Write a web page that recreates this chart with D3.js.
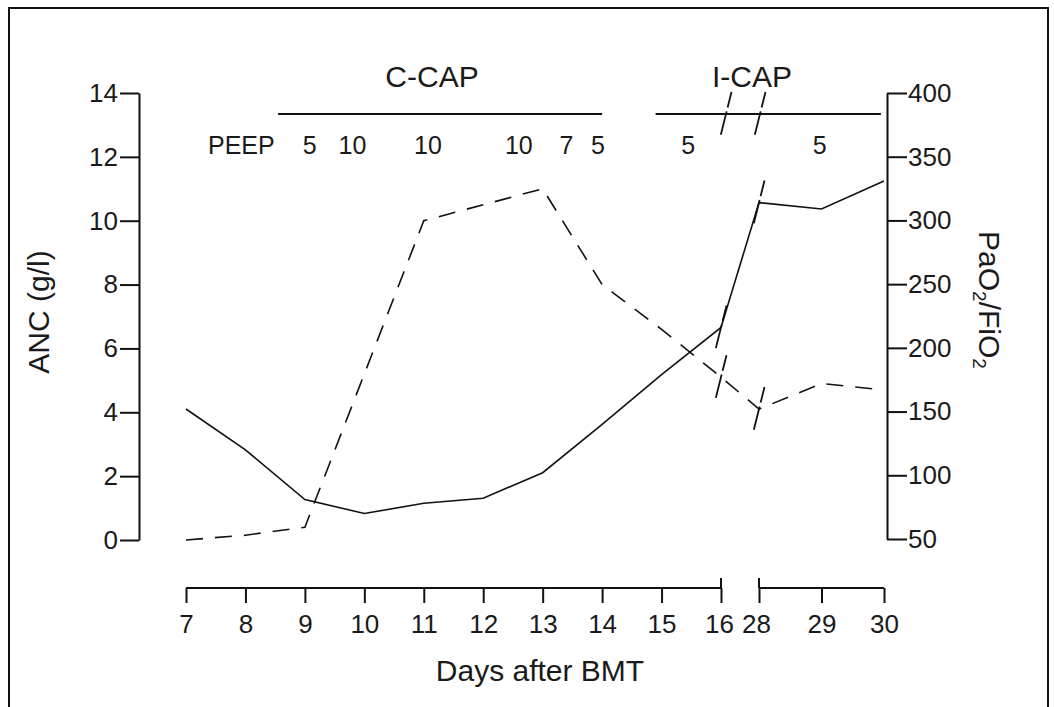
<!DOCTYPE html>
<html>
<head>
<meta charset="utf-8">
<script src="https://cdn.jsdelivr.net/npm/d3@7"></script>
<style>
  html, body { margin: 0; padding: 0; background: #fff; }
  svg { display: block; }
  text { font-family: "Liberation Sans", Arial, Helvetica, sans-serif; fill: #1a1a1a; }
</style>
</head>
<body>
<svg id="chart" width="1054" height="707"></svg>
<script>
// ---- data ----
const days = [7, 8, 9, 10, 11, 12, 13, 14, 15, 16, 28, 29, 30];
const ancValues = [0.0, 0.15, 0.4, 5.2, 10.0, 10.5, 11.0, 8.0, 6.6, 5.1, 4.1, 4.9, 4.7];   // dashed, left axis
const pfValues  = [152, 120, 81, 70, 78, 82, 102, 140, 179, 216, 314, 309, 331];          // solid, right axis
const leftTicks = [0, 2, 4, 6, 8, 10, 12, 14];
const rightTicks = [50, 100, 150, 200, 250, 300, 350, 400];
const breakDays = [16, 28];
const modeNames = ["C-CAP", "I-CAP"];
const modeRanges = [[8.55, 14.0], [14.9, 29.95]];
const peepValues = ["5", "10", "10", "10", "7", "5", "5", "5"];
const peepDays = [9.08, 9.8, 11.07, 12.6, 13.4, 13.93, 15.45, 28.97];

// ---- layout ----
const svg = d3.select("#chart");
const x = d3.scaleLinear().domain([7, 16, 28, 30]).range([186, 721, 759, 884]);
const yL = d3.scaleLinear().domain([0, 14]).range([540, 93]);
const yR = d3.scaleLinear().domain([50, 400]).range([539, 93]);
const axisY = 588;

// frame
svg.append("path")
  .attr("d", "M9,710 L9,8 L1048,8 L1048,710")
  .attr("fill", "none").attr("stroke", "#111").attr("stroke-width", 2);

// left axis
const gL = svg.append("g").attr("transform", "translate(139,0)")
  .call(d3.axisLeft(yL).tickValues(leftTicks).tickSize(19).tickSizeOuter(0).tickPadding(2));
// right axis
const gR = svg.append("g").attr("transform", "translate(887,0)")
  .call(d3.axisRight(yR).tickValues(rightTicks).tickSize(20).tickSizeOuter(0).tickPadding(1));
// bottom axis
const gB = svg.append("g").attr("transform", `translate(0,${axisY})`)
  .call(d3.axisBottom(x).tickValues(days).tickSize(15).tickPadding(12));
gB.select(".domain").remove();
[[7, 16], [28, 30]].forEach(seg => {
  gB.append("line").attr("x1", x(seg[0])).attr("x2", x(seg[1]))
    .attr("y1", 0).attr("y2", 0).attr("stroke", "#111").attr("stroke-width", 2);
});
breakDays.forEach(d => {
  gB.append("line").attr("x1", x(d)).attr("x2", x(d)).attr("y1", -10).attr("y2", 0)
    .attr("stroke", "#111").attr("stroke-width", 2);
});
gB.selectAll(".tick text").attr("dx", d => d === 28 ? -3 : (d === 16 ? -2 : 0));

[gL, gR, gB].forEach(g => {
  g.selectAll(".domain").attr("stroke", "#111").attr("stroke-width", 2);
  g.selectAll(".tick line").attr("stroke", "#111").attr("stroke-width", 2);
  g.selectAll(".tick text").attr("font-size", 26).attr("fill", "#1a1a1a")
    .style("font-family", "'Liberation Sans', Arial, sans-serif");
});

// axis titles
svg.append("text").attr("x", 540).attr("y", 681).attr("text-anchor", "middle")
  .attr("font-size", 30).text("Days after BMT");
svg.append("text").attr("transform", "translate(49,312) rotate(-90)")
  .attr("text-anchor", "middle").attr("font-size", 30).text("ANC (g/l)");
const rt = svg.append("text").attr("transform", "translate(979,300) rotate(90)")
  .attr("text-anchor", "middle").attr("font-size", 30);
rt.append("tspan").text("PaO");
rt.append("tspan").attr("font-size", 19).attr("dy", 6).text("2");
rt.append("tspan").attr("dy", -6).text("/FiO");
rt.append("tspan").attr("font-size", 19).attr("dy", 6).text("2");

// ventilation mode bars
const barY = 114;
modeRanges.forEach((r, i) => {
  svg.append("line").attr("x1", x(r[0])).attr("x2", x(r[1])).attr("y1", barY).attr("y2", barY)
    .attr("stroke", "#111").attr("stroke-width", 2);
});
svg.append("text").attr("x", 432).attr("y", 87).attr("text-anchor", "middle")
  .attr("font-size", 30).text(modeNames[0]);
svg.append("text").attr("x", 752).attr("y", 87).attr("text-anchor", "middle")
  .attr("font-size", 30).text(modeNames[1]);

// PEEP labels
svg.append("text").attr("x", 208).attr("y", 154).attr("font-size", 25).text("PEEP");
svg.selectAll(".peep").data(peepDays).join("text")
  .attr("class", "peep")
  .attr("x", d => x(d)).attr("y", 154).attr("text-anchor", "middle")
  .attr("font-size", 25).text((d, i) => peepValues[i]);

// data lines
const solidLine = d3.line().x((d, i) => x(days[i])).y(d => yR(d));
const dashLine = d3.line().x((d, i) => x(days[i])).y(d => yL(d));
svg.append("path").datum(pfValues).attr("d", solidLine)
  .attr("fill", "none").attr("stroke", "#111").attr("stroke-width", 1.6);
svg.append("path").datum(ancValues).attr("d", dashLine)
  .attr("fill", "none").attr("stroke", "#111").attr("stroke-width", 1.6)
  .attr("stroke-dasharray", "17,12");

// break marks (slashes)
function slash(cx, cy) {
  svg.append("line").attr("x1", cx + 5.5).attr("y1", cy - 22).attr("x2", cx - 5.5).attr("y2", cy + 22)
    .attr("stroke", "#111").attr("stroke-width", 1.8).attr("stroke-dasharray", "16,4,24");
}
const barSlashShift = [5, 1];
breakDays.forEach((d, k) => {
  const i = days.indexOf(d);
  slash(x(d) + barSlashShift[k], barY);
  slash(x(d), yR(pfValues[i]));
  slash(x(d), yL(ancValues[i]));
});
</script>
</body>
</html>
